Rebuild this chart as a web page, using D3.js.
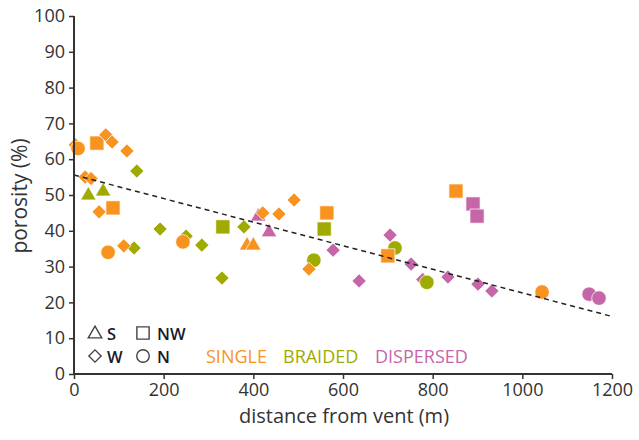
<!DOCTYPE html>
<html><head><meta charset="utf-8">
<script src="https://cdn.jsdelivr.net/npm/d3@7"></script>
<style>body{margin:0;background:#fff;} svg{display:block;font-family:"Open Sans",sans-serif;}</style>
</head><body><svg id="c" width="639" height="440"></svg>
<script>
// ---- data ----
const groups = ["DISPERSED", "BRAIDED", "SINGLE"];
const groupColors = {SINGLE: "#f7931e", BRAIDED: "#9fab00", DISPERSED: "#c566a8"};
const xTicks = [0, 200, 400, 600, 800, 1000, 1200];
const yTicks = [0, 10, 20, 30, 40, 50, 60, 70, 80, 90, 100];
// [distance (m), porosity (%), site]  site: S=triangle, W=diamond, NW=square, N=circle
const singleData = [
  [3, 64, "W"], [9, 63, "N"], [51, 64.5, "NW"], [71, 66.8, "W"], [85, 64.8, "W"],
  [118, 62.3, "W"], [25, 55, "W"], [38, 54.6, "W"], [56, 45.3, "W"], [87, 46.4, "NW"],
  [76, 34, "N"], [111, 35.8, "W"], [243, 36.9, "N"], [386, 36.3, "S"], [400, 36.3, "S"],
  [421, 45, "W"], [457, 44.7, "W"], [491, 48.6, "W"], [564, 45, "NW"], [524, 29.3, "W"],
  [700, 33, "NW"], [852, 51.1, "NW"], [1044, 22.9, "N"]
];
const braidedData = [
  [32, 50.3, "S"], [65, 51.4, "S"], [140, 56.7, "W"], [192, 40.5, "W"], [134, 35.2, "W"],
  [250, 38.5, "W"], [285, 36, "W"], [332, 41.1, "NW"], [330, 26.8, "W"], [379, 41.1, "W"],
  [558, 40.5, "NW"], [535, 31.8, "N"], [716, 35.2, "N"], [787, 25.6, "N"]
];
const dispersedData = [
  [411, 44.4, "S"], [435, 40, "S"], [578, 34.6, "W"], [636, 26, "W"], [705, 38.8, "W"],
  [752, 30.7, "W"], [778, 26.4, "W"], [834, 27.1, "W"], [901, 25.1, "W"], [932, 23.2, "W"],
  [890, 47.5, "NW"], [899, 44.1, "NW"], [1149, 22.3, "N"], [1171, 21.2, "N"]
];
const trendX = [0, 1196];
const trendY = [55.6, 16.2];
const legendShapes = [["S", "NW"], ["W", "N"]];

// ---- chart ----
const svg = d3.select("#c");
const x = d3.scaleLinear().domain([0, 1200]).range([74, 612]);
const y = d3.scaleLinear().domain([0, 100]).range([374, 16]);
const axisColor = "#333";

const symFor = {
  S: {type: d3.symbolTriangle, size: 105, rot: 0},
  W: {type: d3.symbolSquare, size: 100, rot: 45},
  NW: {type: d3.symbolSquare, size: 200, rot: 0},
  N: {type: d3.symbolCircle, size: 165, rot: 0}
};
function sym(s, scale) {
  const f = symFor[s];
  return d3.symbol().type(f.type).size(f.size * (scale || 1))();
}

const dataBy = {SINGLE: singleData, BRAIDED: braidedData, DISPERSED: dispersedData};
groups.forEach(g => {
  svg.append("g").selectAll("path").data(dataBy[g]).join("path")
    .attr("d", d => sym(d[2]))
    .attr("transform", d => `translate(${x(d[0])},${y(d[1]) + (d[2] === "S" ? 1.5 : 0)}) rotate(${symFor[d[2]].rot})`)
    .attr("fill", groupColors[g])
    .attr("stroke", "#fff").attr("stroke-width", 0.7);
});

// trend line
svg.append("path")
  .datum(trendX.map((v, i) => [v, trendY[i]]))
  .attr("d", d3.line().x(d => x(d[0])).y(d => y(d[1])))
  .attr("fill", "none").attr("stroke", "#222").attr("stroke-width", 1.5)
  .attr("stroke-dasharray", "5,4");

// axes
const xAxis = svg.append("g").attr("transform", "translate(0,374)")
  .call(d3.axisBottom(x).tickValues(xTicks).tickSize(5).tickPadding(4).tickFormat(d3.format("d")));
const yAxis = svg.append("g").attr("transform", "translate(74,0)")
  .call(d3.axisLeft(y).tickValues(yTicks).tickSize(5).tickPadding(4));
[xAxis, yAxis].forEach(a => {
  a.select(".domain").attr("stroke", axisColor).attr("stroke-width", 2);
  a.selectAll(".tick line").attr("stroke", axisColor).attr("stroke-width", 1.5);
  a.selectAll(".tick text").attr("fill", axisColor).style("font-size", "18px").style("font-family", "Open Sans, sans-serif");
});
xAxis.select(".domain").attr("d", "M74,0H612");
yAxis.select(".domain").attr("d", "M0,16V374");

svg.append("text").attr("x", 344).attr("y", 423).attr("text-anchor", "middle")
  .attr("fill", axisColor).style("font-size", "20px").text("distance from vent (m)");
svg.append("text").attr("transform", "translate(27,196) rotate(-90)").attr("text-anchor", "middle")
  .attr("fill", axisColor).style("font-size", "21px").text("porosity (%)");

// legend
const legX = [95, 143], legY = [333, 356];
legendShapes.forEach((row, ri) => {
  row.forEach((s, ci) => {
    svg.append("path").attr("d", sym(s, 0.75))
      .attr("transform", `translate(${legX[ci]},${legY[ri] + (s === "S" ? 1 : 0)}) rotate(${symFor[s].rot})`)
      .attr("fill", "none").attr("stroke", "#444").attr("stroke-width", 1.4);
    svg.append("text").attr("x", legX[ci] + (ci === 0 ? 12 : 14)).attr("y", legY[ri] + 6.5)
      .attr("fill", "#1a1a2a").style("font-size", "16.5px").style("font-weight", "600").text(s);
  });
});
const groupLabelX = {SINGLE: 206, BRAIDED: 283, DISPERSED: 375};
["SINGLE", "BRAIDED", "DISPERSED"].forEach(g => {
  svg.append("text").attr("x", groupLabelX[g]).attr("y", 363)
    .attr("fill", groupColors[g]).style("font-size", "18px").text(g);
});
</script></body></html>
